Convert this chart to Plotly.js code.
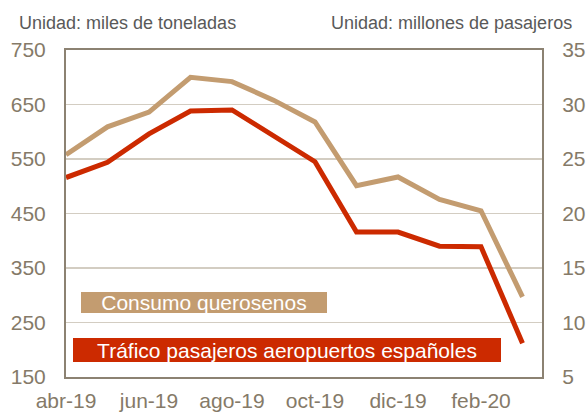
<!DOCTYPE html>
<html>
<head>
<meta charset="utf-8">
<script src="https://cdn.plot.ly/plotly-3.0.1.min.js"></script>
<style>
  html, body { margin: 0; padding: 0; background: #fff; }
  #chart { width: 587px; height: 412px; }
</style>
</head>
<body>
<div id="chart"></div>
<script>
// months, apr-19 .. mar-20
var months = ["abr-19", "may-19", "jun-19", "jul-19", "ago-19", "sep-19",
              "oct-19", "nov-19", "dic-19", "ene-20", "feb-20", "mar-20"];
var tickLabels = ["abr-19", "jun-19", "ago-19", "oct-19", "dic-19", "feb-20"];

// miles de toneladas (left axis)
var queroseno = [558, 609, 636, 700, 692, 658, 618, 501, 517, 476, 455, 297];
// millones de pasajeros (right axis)
var pasajeros = [23.3, 24.7, 27.3, 29.4, 29.5, 27.1, 24.75, 18.3, 18.3, 17.0, 16.95, 8.1];

var axisCol = "#8c8272";
var tickCol = "#857a68";
var tickFont = { family: "Liberation Sans, Arial", size: 21, color: tickCol };

var traces = [
  {
    x: months, y: queroseno, type: "scatter", mode: "lines",
    name: "Consumo querosenos",
    line: { color: "#c39c70", width: 5 },
    yaxis: "y"
  },
  {
    x: months, y: pasajeros, type: "scatter", mode: "lines",
    name: "Tráfico pasajeros aeropuertos españoles",
    line: { color: "#cc2a00", width: 5 },
    yaxis: "y2"
  }
];

var layout = {
  width: 587,
  height: 412,
  margin: { l: 66, r: 45, t: 50, b: 35 },
  paper_bgcolor: "#ffffff",
  plot_bgcolor: "#ffffff",
  showlegend: false,
  xaxis: {
    type: "category",
    range: [0, 11.47],
    tickmode: "array",
    tickvals: tickLabels,
    ticktext: tickLabels,
    showgrid: false,
    zeroline: false,
    showline: true, mirror: true,
    linecolor: axisCol, linewidth: 2,
    ticks: "",
    ticklabelstandoff: 4,
    tickfont: tickFont
  },
  yaxis: {
    range: [150, 750],
    tick0: 150,
    dtick: 100,
    showgrid: true, gridcolor: "#d3cdc2", gridwidth: 1.5,
    zeroline: false,
    showline: true, linecolor: axisCol, linewidth: 2,
    ticks: "",
    ticklabelstandoff: 14,
    tickfont: tickFont
  },
  yaxis2: {
    overlaying: "y",
    side: "right",
    range: [5, 35],
    dtick: 5,
    showgrid: false, zeroline: false,
    showline: true, linecolor: axisCol, linewidth: 2,
    ticks: "",
    ticklabelstandoff: 14,
    tickfont: tickFont
  },
  annotations: [
    {
      xref: "paper", yref: "paper", x: -49 / 476, y: 1, xanchor: "left", yanchor: "bottom",
      yshift: 15, showarrow: false,
      text: "Unidad: miles de toneladas",
      font: { family: "Liberation Sans, Arial", size: 18, color: "#595959" }
    },
    {
      xref: "paper", yref: "paper", x: 1 + 32 / 476, y: 1, xanchor: "right", yanchor: "bottom",
      yshift: 15, showarrow: false,
      text: "Unidad: millones de pasajeros",
      font: { family: "Liberation Sans, Arial", size: 18, color: "#595959" }
    },
    {
      xref: "paper", yref: "paper", x: 15 / 476, y: (377 - 313) / 327, xanchor: "left", yanchor: "bottom",
      showarrow: false, bgcolor: "#c39c70", borderpad: 0, borderwidth: 0,
      width: 246, height: 21, align: "center", valign: "middle",
      text: "Consumo querosenos",
      font: { family: "Liberation Sans, Arial", size: 21, color: "#ffffff" }
    },
    {
      xref: "paper", yref: "paper", x: 7 / 476, y: (377 - 362) / 327, xanchor: "left", yanchor: "bottom",
      showarrow: false, bgcolor: "#cc2a00", borderpad: 0, borderwidth: 0,
      width: 428, height: 24, align: "center", valign: "middle",
      text: "Tráfico pasajeros aeropuertos españoles",
      font: { family: "Liberation Sans, Arial", size: 21, color: "#ffffff" }
    }
  ]
};

Plotly.newPlot("chart", traces, layout, { displayModeBar: false, staticPlot: true });
</script>
</body>
</html>
